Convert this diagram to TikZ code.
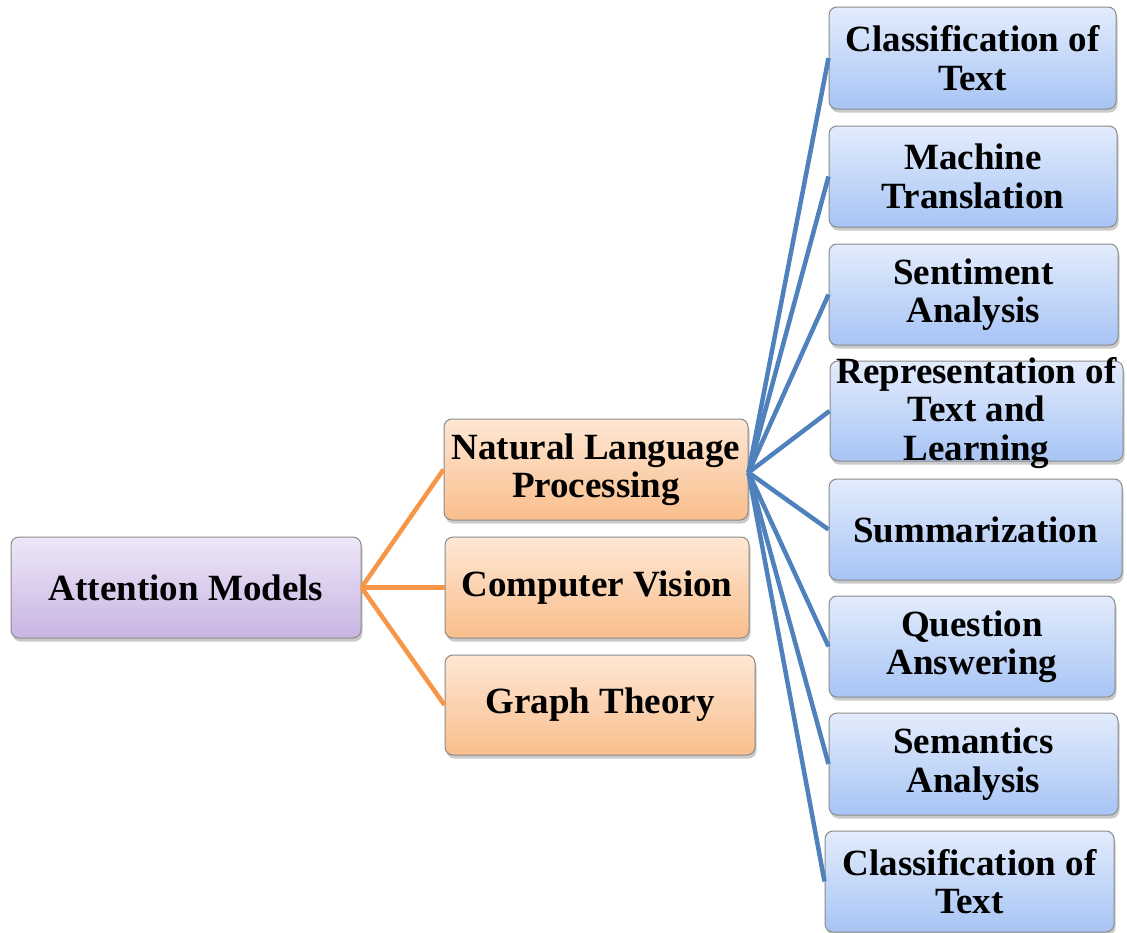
\documentclass[tikz,border=0pt]{standalone}
\usepackage{fontspec}
\setmainfont{Liberation Serif}
\usetikzlibrary{shadows}
\definecolor{purpTop}{HTML}{EEE7F8}
\definecolor{purpBot}{HTML}{C8B4E2}
\definecolor{oranTop}{HTML}{FEE7D4}
\definecolor{oranBot}{HTML}{F9BE8C}
\definecolor{bluTop}{HTML}{E3ECFC}
\definecolor{bluBot}{HTML}{A7C4F5}
\definecolor{lineOran}{HTML}{F79646}
\definecolor{lineBlu}{HTML}{4F81BD}
\definecolor{edgeGray}{HTML}{8A8A8A}
\tikzset{
  basebox/.style={draw=edgeGray, line width=1pt, rounded corners=8pt, inner sep=0pt,
    align=center, font=\fontsize{37}{38.5}\selectfont\bfseries,
    drop shadow={shadow xshift=1.5pt, shadow yshift=-3.5pt, opacity=0.35, fill=black!60}},
  purpbox/.style={basebox, top color=purpTop, bottom color=purpBot},
  oranbox/.style={basebox, top color=oranTop, bottom color=oranBot},
  blubox/.style={basebox, top color=bluTop, bottom color=bluBot},
  txtonly/.style={inner sep=0pt, align=center, font=\fontsize{37}{38.5}\selectfont\bfseries},
  oranline/.style={draw=lineOran, line width=4.5pt},
  bluline/.style={draw=lineBlu, line width=4.5pt},
}
\begin{document}
\begin{tikzpicture}[x=1pt, y=-1pt]
\useasboundingbox (0,0) rectangle (1127,932);
% root
\node[purpbox, minimum width=350pt, minimum height=101pt] (root) at (186,587.5) {Attention Models};
% middle level
\node[oranbox, minimum width=304pt, minimum height=101pt] (nlp) at (596,469.5) {Natural Language\\Processing};
\node[oranbox, minimum width=304pt, minimum height=101pt] (cv) at (597,587.5) {Computer Vision};
\node[oranbox, minimum width=310pt, minimum height=100pt] (gt) at (600,705) {Graph Theory};
% leaves
\node[blubox, minimum width=287pt, minimum height=102pt] (b1) at (972.5,58) {Classification of\\Text};
\node[blubox, minimum width=288pt, minimum height=101pt] (b2) at (973,176.5) {Machine\\Translation};
\node[blubox, minimum width=289pt, minimum height=101pt] (b3) at (973.5,294.5) {Sentiment\\Analysis};
\node[blubox, minimum width=293pt, minimum height=100pt] (b4) at (976.5,411) {};
\node[txtonly] (b4t) at ([yshift=-2pt]b4.center) {Representation of\\Text and\\Learning};
\node[blubox, minimum width=293pt, minimum height=101pt] (b5) at (975.5,529.5) {Summarization};
\node[blubox, minimum width=286pt, minimum height=101pt] (b6) at (972,646.5) {Question\\Answering};
\node[blubox, minimum width=289pt, minimum height=102pt] (b7) at (973.5,764) {Semantics\\Analysis};
\node[blubox, minimum width=289pt, minimum height=101pt] (b8) at (969.5,881.5) {Classification of\\Text};
% connectors
\foreach \t in {nlp,cv,gt}{
  \draw[oranline] (root.east) -- (\t.west);
}
\foreach \t in {b1,b2,b3,b4,b5,b6,b7,b8}{
  \draw[bluline] ([yshift=-3pt]nlp.east) -- (\t.west);
}
\end{tikzpicture}
\end{document}
